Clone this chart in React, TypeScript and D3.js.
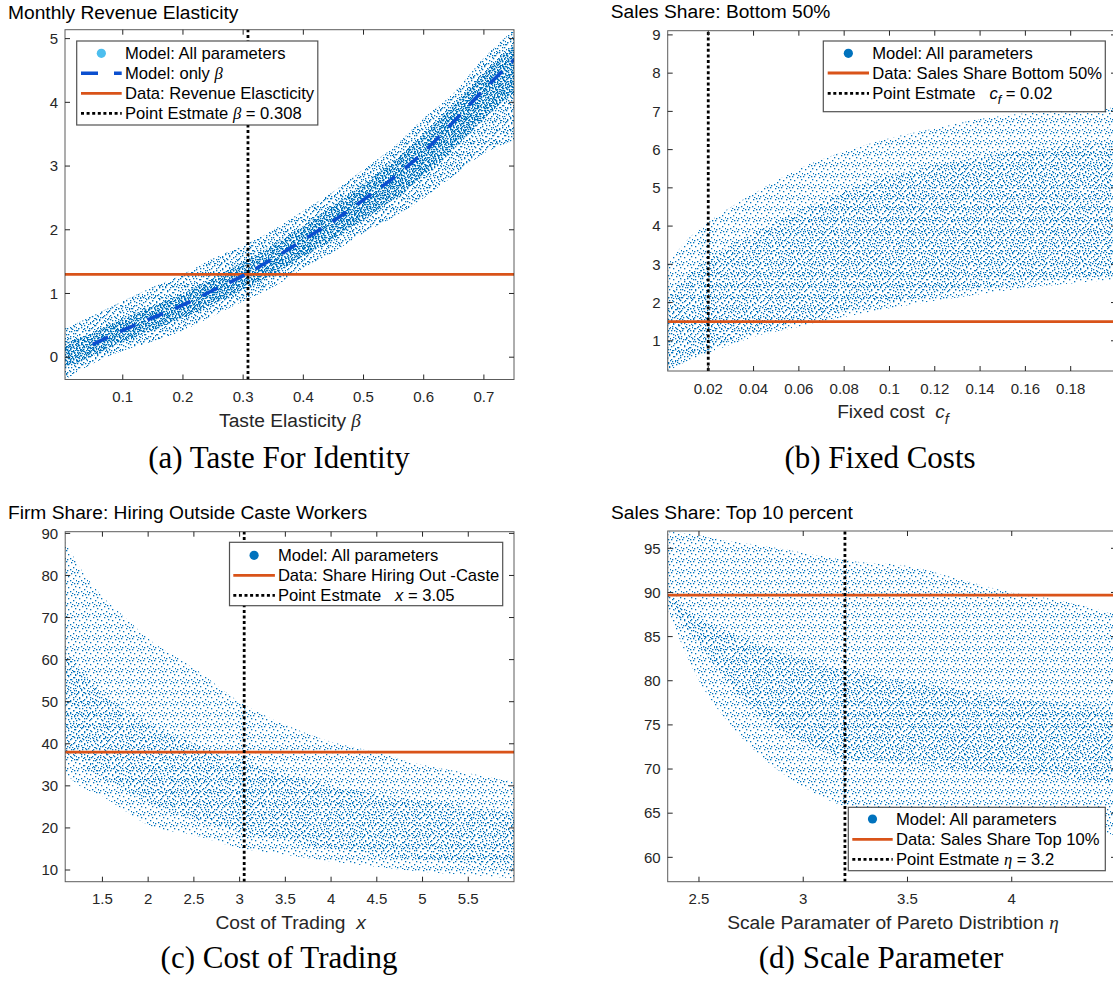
import React from 'react';
import * as d3 from 'd3';

const BLUE = '#0072BD';
const LIGHT_BLUE = '#4DBEEE';
const DASH_BLUE = '#0B4FCF';
const ORANGE = '#D95319';
const AXIS = '#262626';
const SANS = '"Liberation Sans", Arial, Helvetica, sans-serif';
const SERIF = '"Liberation Serif", "Times New Roman", serif';
const SP = '\u00A0';

// (a) Taste for identity: revenue elasticity against beta
const A_BETA = [0.004, 0.05, 0.1, 0.15, 0.2, 0.25, 0.3, 0.35, 0.4, 0.45, 0.5, 0.55, 0.6, 0.65, 0.7, 0.75];
const A_CLOUD_LO = [-0.35, -0.1, 0.1, 0.25, 0.42, 0.65, 0.88, 1.1, 1.4, 1.65, 1.95, 2.2, 2.5, 2.85, 3.2, 3.4];
const A_CLOUD_HI = [0.45, 0.65, 0.88, 1.1, 1.3, 1.55, 1.75, 2.0, 2.3, 2.6, 2.95, 3.3, 3.75, 4.15, 4.7, 5.14];
const A_CORE_LO = [-0.15, 0.02, 0.24, 0.43, 0.62, 0.84, 1.06, 1.3, 1.58, 1.86, 2.16, 2.48, 2.85, 3.28, 3.75, 4.15];
const A_CORE_HI = [0.22, 0.38, 0.6, 0.8, 1.0, 1.24, 1.5, 1.76, 2.06, 2.38, 2.72, 3.08, 3.5, 3.95, 4.45, 4.9];
const A_ONLY_BETA_X = [0.05, 0.1, 0.15, 0.2, 0.25, 0.3, 0.35, 0.4, 0.45, 0.5, 0.55, 0.6, 0.65, 0.7, 0.75];
const A_ONLY_BETA_Y = [0.2, 0.42, 0.62, 0.82, 1.05, 1.28, 1.55, 1.84, 2.14, 2.47, 2.82, 3.22, 3.7, 4.2, 4.67];
const A_DATA = 1.3;
const A_ESTIMATE = 0.308;
const A_X_TICKS = [0.1, 0.2, 0.3, 0.4, 0.5, 0.6, 0.7];
const A_X_LABELS = ['0.1', '0.2', '0.3', '0.4', '0.5', '0.6', '0.7'];
const A_Y_TICKS = [0, 1, 2, 3, 4, 5];
const A_Y_LABELS = ['0', '1', '2', '3', '4', '5'];

// (b) Fixed costs: sales share of bottom 50% against c_f
const B_CF = [0.002, 0.01, 0.02, 0.03, 0.04, 0.06, 0.08, 0.1, 0.12, 0.14, 0.16, 0.18, 0.2];
const B_CLOUD_LO = [0.2, 0.45, 0.68, 0.9, 1.1, 1.37, 1.62, 1.85, 2.05, 2.22, 2.38, 2.5, 2.6];
const B_CLOUD_HI = [3.0, 3.6, 4.1, 4.5, 4.85, 5.5, 5.95, 6.3, 6.55, 6.8, 6.95, 7.05, 7.1];
const B_CORE_LO = [0.25, 0.5, 0.75, 1.0, 1.2, 1.5, 1.78, 2.0, 2.2, 2.38, 2.52, 2.62, 2.72];
const B_CORE_HI = [2.2, 2.7, 3.1, 3.5, 3.8, 4.4, 4.9, 5.3, 5.6, 5.8, 6.0, 6.1, 6.2];
const B_DATA = 1.5;
const B_ESTIMATE = 0.02;
const B_X_TICKS = [0.02, 0.04, 0.06, 0.08, 0.1, 0.12, 0.14, 0.16, 0.18];
const B_X_LABELS = ['0.02', '0.04', '0.06', '0.08', '0.1', '0.12', '0.14', '0.16', '0.18'];
const B_Y_TICKS = [1, 2, 3, 4, 5, 6, 7, 8, 9];
const B_Y_LABELS = ['1', '2', '3', '4', '5', '6', '7', '8', '9'];

// (c) Cost of trading: firm share hiring outside caste against x
const C_X = [1.093, 1.25, 1.5, 1.75, 2.0, 2.5, 3.0, 3.5, 4.0, 4.5, 5.0, 5.5, 6.0];
const C_CLOUD_LO = [33, 30, 27.5, 24, 20.7, 18.3, 15.2, 13.6, 12, 10.8, 9.6, 8.8, 8];
const C_CLOUD_HI = [88, 82, 75, 70, 65, 58, 50, 44.5, 40.5, 38, 35, 33, 31];
const C_CORE_LO = [38, 35, 32, 29, 26, 22, 19, 17, 15, 13.5, 12.5, 11.5, 11];
const C_CORE_HI = [62, 58, 52, 48, 45, 40, 36, 33, 30, 28, 26.5, 25, 24];
const C_DATA = 38;
const C_ESTIMATE = 3.05;
const C_X_TICKS = [1.5, 2, 2.5, 3, 3.5, 4, 4.5, 5, 5.5];
const C_X_LABELS = ['1.5', '2', '2.5', '3', '3.5', '4', '4.5', '5', '5.5'];
const C_Y_TICKS = [10, 20, 30, 40, 50, 60, 70, 80, 90];
const C_Y_LABELS = ['10', '20', '30', '40', '50', '60', '70', '80', '90'];

// (d) Scale parameter: sales share of top 10 percent against eta
const D_ETA = [2.35, 2.5, 2.6, 2.75, 3.0, 3.25, 3.5, 3.75, 4.0, 4.25, 4.5];
const D_CLOUD_LO = [88, 80, 76.5, 72.5, 68, 65.5, 65, 64.5, 64, 63.5, 62.5];
const D_CLOUD_HI = [96.9, 96.5, 96, 95.5, 94.5, 93.5, 93, 91.5, 90, 89, 87.5];
const D_CORE_LO = [89, 84, 81, 77, 73, 71, 70.5, 70, 69.5, 69, 68.5];
const D_CORE_HI = [90, 87, 86, 84.5, 82.5, 81, 80, 79, 78, 77.5, 77];
const D_DATA = 89.7;
const D_ESTIMATE = 3.2;
const D_X_TICKS = [2.5, 3, 3.5, 4];
const D_X_LABELS = ['2.5', '3', '3.5', '4'];
const D_Y_TICKS = [60, 65, 70, 75, 80, 85, 90, 95];
const D_Y_LABELS = ['60', '65', '70', '75', '80', '85', '90', '95'];

// speckle textures (tile size + dot offsets) used to fill the point clouds
const TILES = [
  { size: 11, dots: [[0, 0], [5, 1], [9, 3], [2, 4], [7, 6], [4, 8], [10, 8], [1, 9], [6, 10], [8, 0]] },
  { size: 13, dots: [[3, 0], [9, 1], [0, 3], [6, 3], [11, 5], [4, 6], [8, 8], [1, 9], [12, 10], [5, 11], [10, 12], [2, 12]] },
  { size: 17, dots: [[1, 1], [7, 0], [13, 2], [4, 4], [10, 5], [16, 6], [2, 8], [8, 8], [14, 10], [5, 11], [11, 12], [0, 13], [6, 15], [12, 15], [15, 16], [3, 16], [9, 3], [1, 6]] },
];
const LAYERS = [[0, 0, 0], [1, 0, 0], [2, 0, 0], [0, 5, 6], [1, 7, 3], [2, 8, 9]];

type Band = { xs: number[]; lo: number[]; hi: number[]; layers: number[] };
type LegendItem = { kind: 'dot' | 'dash' | 'solid' | 'dotted'; color?: string; label: React.ReactNode };
type Legend = { x0: number; x1: number; y0: number; y1: number; rows: number[]; s0: number; s1: number; tx: number; items: LegendItem[] };

interface Spec {
  id: string;
  title: string; titleX: number; titleY: number;
  left: number; right: number; top: number; bottom: number;
  xDomain: [number, number]; yDomain: [number, number];
  xTicks: number[]; xLabels: string[]; yTicks: number[]; yLabels: string[];
  xTitle: React.ReactNode; xTitleX: number;
  caption: string; captionX: number; captionY: number;
  bands: Band[];
  data: number; estimate: number;
  onlyLine?: { xs: number[]; ys: number[] };
  legend: Legend;
}

const It = ({ children, serif }: { children: React.ReactNode; serif?: boolean }) => (
  <tspan fontStyle="italic" fontFamily={serif ? SERIF : SANS}>{children}</tspan>
);

const Panel = ({ s }: { s: Spec }) => {
  const x = d3.scaleLinear().domain(s.xDomain).range([s.left, s.right]);
  const y = d3.scaleLinear().domain(s.yDomain).range([s.bottom, s.top]);
  const tick = 5;
  const line = d3.line<number>().x((_, i) => x(s.onlyLine!.xs[i])).y((_, i) => y(s.onlyLine!.ys[i])).curve(d3.curveMonotoneX);
  const L = s.legend;
  return (
    <g fontFamily={SANS}>
      <defs>
        <clipPath id={`clip-${s.id}`}>
          <rect x={s.left} y={s.top} width={s.right - s.left} height={s.bottom - s.top} />
        </clipPath>
      </defs>
      <text x={s.titleX} y={s.titleY} fontSize={19.2} fill="#000">{s.title}</text>

      <g clipPath={`url(#clip-${s.id})`}>
        {s.bands.map((b, bi) => {
          const area = d3.area<number>()
            .x((_, i) => x(b.xs[i]))
            .y0((_, i) => y(b.lo[i]))
            .y1((_, i) => y(b.hi[i]))
            .curve(d3.curveMonotoneX);
          const d = area(b.xs) || '';
          return b.layers.map(l => <path key={`${bi}-${l}`} d={d} fill={`url(#speck${l})`} />);
        })}
        <line x1={x(s.xDomain[0])} x2={x(s.xDomain[1])} y1={y(s.data)} y2={y(s.data)} stroke={ORANGE} strokeWidth={2.8} />
        <line x1={x(s.estimate)} x2={x(s.estimate)} y1={y(s.yDomain[0])} y2={y(s.yDomain[1])} stroke="#000" strokeWidth={2.8} strokeDasharray="3 2.6" />
        {s.onlyLine && (
          <path d={line(s.onlyLine.xs) || ''} fill="none" stroke={DASH_BLUE} strokeWidth={3.5} strokeDasharray="17 13" />
        )}
      </g>

      {/* axes box with inward ticks on all four sides */}
      <rect x={s.left} y={s.top} width={s.right - s.left} height={s.bottom - s.top} fill="none" stroke={AXIS} strokeOpacity={0.75} strokeWidth={1} />
      {s.xTicks.map((t, i) => (
        <g key={`x${i}`}>
          <line x1={x(t)} x2={x(t)} y1={s.bottom} y2={s.bottom - tick} stroke={AXIS} />
          <line x1={x(t)} x2={x(t)} y1={s.top} y2={s.top + tick} stroke={AXIS} />
          <text x={x(t)} y={s.bottom + 22.5} fontSize={15} textAnchor="middle" fill={AXIS}>{s.xLabels[i]}</text>
        </g>
      ))}
      {s.yTicks.map((t, i) => (
        <g key={`y${i}`}>
          <line x1={s.left} x2={s.left + tick} y1={y(t)} y2={y(t)} stroke={AXIS} />
          <line x1={s.right} x2={s.right - tick} y1={y(t)} y2={y(t)} stroke={AXIS} />
          <text x={s.left - 7} y={y(t)} dy="0.35em" fontSize={15} textAnchor="end" fill={AXIS}>{s.yLabels[i]}</text>
        </g>
      ))}
      <text x={s.xTitleX} y={s.bottom + 47} fontSize={19.2} textAnchor="middle" fill={AXIS}>{s.xTitle}</text>

      {/* legend */}
      <rect x={L.x0} y={L.y0} width={L.x1 - L.x0} height={L.y1 - L.y0} fill="#fff" stroke={AXIS} strokeOpacity={0.8} strokeWidth={1.2} />
      {L.items.map((it, i) => {
        const ry = L.rows[i];
        let sample: React.ReactNode = null;
        if (it.kind === 'dot') sample = <circle cx={(L.s0 + L.s1) / 2} cy={ry} r={4.6} fill={it.color || BLUE} />;
        if (it.kind === 'dash') sample = <line x1={L.s0} x2={L.s1} y1={ry} y2={ry} stroke={DASH_BLUE} strokeWidth={3.5} strokeDasharray="17 16" />;
        if (it.kind === 'solid') sample = <line x1={L.s0} x2={L.s1} y1={ry} y2={ry} stroke={ORANGE} strokeWidth={2.8} />;
        if (it.kind === 'dotted') sample = <line x1={L.s0} x2={L.s1} y1={ry} y2={ry} stroke="#000" strokeWidth={2.8} strokeDasharray="3 2.6" />;
        return (
          <g key={`l${i}`}>
            {sample}
            <text x={L.tx} y={ry} dy="0.36em" fontSize={16.6} fill="#000">{it.label}</text>
          </g>
        );
      })}

      <text x={s.captionX} y={s.captionY} fontSize={31} textAnchor="middle" fontFamily={SERIF} fill="#000">{s.caption}</text>
    </g>
  );
};

const specs: Spec[] = [
  {
    id: 'a', title: 'Monthly Revenue Elasticity', titleX: 8, titleY: 18.5,
    left: 65, right: 514, top: 29.7, bottom: 379.5,
    xDomain: [0.004, 0.75], yDomain: [-0.35, 5.14],
    xTicks: A_X_TICKS, xLabels: A_X_LABELS, yTicks: A_Y_TICKS, yLabels: A_Y_LABELS,
    xTitle: <>Taste Elasticity <It serif>β</It></>, xTitleX: 290,
    caption: '(a) Taste For Identity', captionX: 279, captionY: 468,
    bands: [
      { xs: A_BETA, lo: A_CLOUD_LO, hi: A_CLOUD_HI, layers: [0, 1] },
      { xs: A_BETA, lo: A_CORE_LO, hi: A_CORE_HI, layers: [2, 3, 4, 5] },
    ],
    data: A_DATA, estimate: A_ESTIMATE,
    onlyLine: { xs: A_ONLY_BETA_X, ys: A_ONLY_BETA_Y },
    legend: {
      x0: 76.7, x1: 317.8, y0: 41, y1: 125, rows: [53.3, 73.3, 93.3, 113.3], s0: 81, s1: 121.7, tx: 125,
      items: [
        { kind: 'dot', color: LIGHT_BLUE, label: 'Model: All parameters' },
        { kind: 'dash', label: <>Model: only <It serif>β</It></> },
        { kind: 'solid', label: 'Data: Revenue Elascticity' },
        { kind: 'dotted', label: <>Point Estmate <It serif>β</It> = 0.308</> },
      ],
    },
  },
  {
    id: 'b', title: 'Sales Share: Bottom 50%', titleX: 610.7, titleY: 17.5,
    left: 667.7, right: 1116, top: 30.7, bottom: 371,
    xDomain: [0.0021, 0.2], yDomain: [0.21, 9.11],
    xTicks: B_X_TICKS, xLabels: B_X_LABELS, yTicks: B_Y_TICKS, yLabels: B_Y_LABELS,
    xTitle: <>{`Fixed cost${SP}${SP}`}<It>c</It><tspan fontStyle="italic" fontSize="0.75em" dy="6">f</tspan></>, xTitleX: 893,
    caption: '(b) Fixed Costs', captionX: 880, captionY: 468,
    bands: [
      { xs: B_CF, lo: B_CLOUD_LO, hi: B_CLOUD_HI, layers: [0] },
      { xs: B_CF, lo: B_CORE_LO, hi: B_CORE_HI, layers: [1] },
    ],
    data: B_DATA, estimate: B_ESTIMATE,
    legend: {
      x0: 823.3, x1: 1105.3, y0: 41, y1: 111.7, rows: [53.3, 73, 93.3], s0: 827.7, s1: 869, tx: 872.3,
      items: [
        { kind: 'dot', label: 'Model: All parameters' },
        { kind: 'solid', label: 'Data: Sales Share Bottom 50%' },
        { kind: 'dotted', label: <>{`Point Estmate${SP}${SP}${SP}`}<It>c</It><tspan fontStyle="italic" fontSize="0.75em" dy="5">f</tspan><tspan dy="-5"> = 0.02</tspan></> },
      ],
    },
  },
  {
    id: 'c', title: 'Firm Share: Hiring Outside Caste Workers', titleX: 8, titleY: 519,
    left: 65.2, right: 514, top: 531.7, bottom: 881.7,
    xDomain: [1.093, 6.0], yDomain: [7.22, 90.4],
    xTicks: C_X_TICKS, xLabels: C_X_LABELS, yTicks: C_Y_TICKS, yLabels: C_Y_LABELS,
    xTitle: <>{`Cost of Trading${SP}${SP}`}<It>x</It></>, xTitleX: 290.6,
    caption: '(c) Cost of Trading', captionX: 279, captionY: 968,
    bands: [
      { xs: C_X, lo: C_CLOUD_LO, hi: C_CLOUD_HI, layers: [0] },
      { xs: C_X, lo: C_CORE_LO, hi: C_CORE_HI, layers: [1] },
    ],
    data: C_DATA, estimate: C_ESTIMATE,
    legend: {
      x0: 229.5, x1: 502.7, y0: 542.3, y1: 605.7, rows: [555.3, 575.3, 595.3], s0: 233.3, s1: 274.9, tx: 277.9,
      items: [
        { kind: 'dot', label: 'Model: All parameters' },
        { kind: 'solid', label: 'Data: Share Hiring Out -Caste' },
        { kind: 'dotted', label: <>{`Point Estmate${SP}${SP}${SP}`}<It>x</It> = 3.05</> },
      ],
    },
  },
  {
    id: 'd', title: 'Sales Share: Top 10 percent', titleX: 611, titleY: 519,
    left: 667.7, right: 1116, top: 531, bottom: 881.7,
    xDomain: [2.35, 4.5], yDomain: [57.24, 96.96],
    xTicks: D_X_TICKS, xLabels: D_X_LABELS, yTicks: D_Y_TICKS, yLabels: D_Y_LABELS,
    xTitle: <>Scale Paramater of Pareto Distribtion <It serif>η</It></>, xTitleX: 893,
    caption: '(d) Scale Parameter', captionX: 881, captionY: 968,
    bands: [
      { xs: D_ETA, lo: D_CLOUD_LO, hi: D_CLOUD_HI, layers: [0] },
      { xs: D_ETA, lo: D_CORE_LO, hi: D_CORE_HI, layers: [1] },
    ],
    data: D_DATA, estimate: D_ESTIMATE,
    legend: {
      x0: 848.3, x1: 1105.3, y0: 807.3, y1: 870.7, rows: [819, 839.3, 859.3], s0: 852.3, s1: 892.7, tx: 896,
      items: [
        { kind: 'dot', label: 'Model: All parameters' },
        { kind: 'solid', label: 'Data: Sales Share Top 10%' },
        { kind: 'dotted', label: <>Point Estmate <It serif>η</It> = 3.2</> },
      ],
    },
  },
];

export default function App() {
  return (
    <svg width={1113} height={982} style={{ position: 'absolute', left: 0, top: 0, background: '#fff' }}>
      <defs>
        {LAYERS.map(([t, dx, dy], k) => (
          <pattern key={k} id={`speck${k}`} width={TILES[t].size} height={TILES[t].size} patternUnits="userSpaceOnUse"
            patternTransform={`translate(${dx},${dy})`}>
            {TILES[t].dots.map((p, j) => (
              <rect key={j} x={p[0]} y={p[1]} width={1.3} height={1.3} fill={BLUE} />
            ))}
          </pattern>
        ))}
      </defs>
      <rect width={1113} height={982} fill="#fff" />
      {specs.map(s => <Panel key={s.id} s={s} />)}
    </svg>
  );
}
